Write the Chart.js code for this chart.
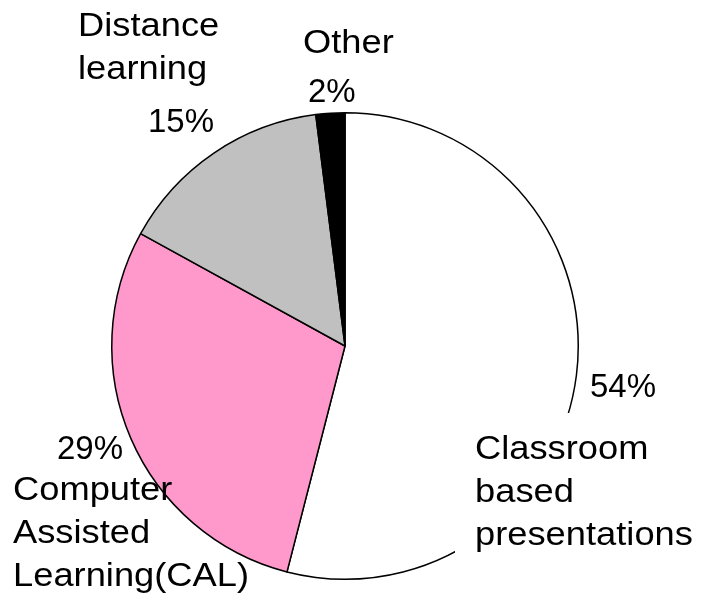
<!DOCTYPE html>
<html>
<head>
<meta charset="utf-8">
<script src="https://cdn.jsdelivr.net/npm/chart.js@4/dist/chart.umd.min.js"></script>
<style>
  html, body { margin: 0; padding: 0; background: #fff; }
  #wrap { width: 703px; height: 594px; }
</style>
</head>
<body>
<div id="wrap"><canvas id="pieChart" width="703" height="594"></canvas></div>
<script>
const categories = ['Classroom based presentations', 'Computer Assisted Learning(CAL)', 'Distance learning', 'Other'];
const shares = [54, 29, 15, 2];
const sliceColors = ['#ffffff', '#ff99cc', '#c0c0c0', '#000000'];

// text blocks: name lines + percent, placed around the pie
const labelBlocks = [
    { lines: ['Classroom', 'based', 'presentations'], x: 475, y: 459, pct: { x: 590, y: 397 } },
    { lines: ['Computer', 'Assisted', 'Learning(CAL)'], x: 13, y: 500, pct: { x: 57, y: 459 } },
    { lines: ['Distance', 'learning'], x: 78, y: 36, pct: { x: 148, y: 132 } },
    { lines: ['Other'], x: 303, y: 53, pct: { x: 308, y: 102 } }
];

const FONT = '33px "Liberation Sans", Arial, sans-serif';
const LINE_H = 43;

const labelPlugin = {
    id: 'labelPlugin',
    afterDraw(chart) {
        const ctx = chart.ctx;
        ctx.save();
        // white box behind the classroom label hides the pie outline
        ctx.fillStyle = '#fff';
        ctx.fillRect(455, 413, 248, 181);
        ctx.fillStyle = '#000';
        ctx.font = FONT;
        ctx.textBaseline = 'alphabetic';
        ctx.textAlign = 'left';
        labelBlocks.forEach((b, i) => {
            b.lines.forEach((ln, j) => {
                ctx.save();
                ctx.translate(b.x, b.y + j * LINE_H);
                ctx.scale(1.1, 1);
                ctx.fillText(ln, 0, 0);
                ctx.restore();
            });
            ctx.fillText(shares[i] + '%', b.pct.x, b.pct.y);
        });
        ctx.restore();
    }
};

new Chart(document.getElementById('pieChart'), {
    type: 'pie',
    data: {
        labels: categories,
        datasets: [{
            data: shares,
            backgroundColor: sliceColors,
            borderColor: '#000',
            borderWidth: 1.5
        }]
    },
    options: {
        responsive: false,
        animation: false,
        layout: { padding: { top: 112, bottom: 14, left: 111, right: 124 } },
        plugins: {
            legend: { display: false },
            tooltip: { enabled: false }
        }
    },
    plugins: [labelPlugin]
});
</script>
</body>
</html>
